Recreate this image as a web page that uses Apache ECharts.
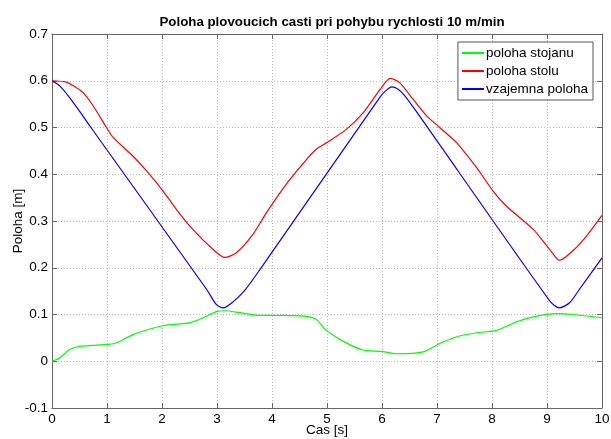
<!DOCTYPE html>
<html>
<head>
<meta charset="utf-8">
<script src="https://cdn.jsdelivr.net/npm/echarts@6/dist/echarts.min.js"></script>
<style>
  html, body {margin: 0; padding: 0; background: #fff;}
  #chart {width: 611px; height: 439px;}
</style>
</head>
<body>
<div id="chart"></div>
<script>
// values
const tStojan = [0, 0.14, 0.32, 0.5, 0.75, 1, 1.17, 1.47, 1.78, 2.02, 2.32, 2.5, 2.75, 2.99, 3.14, 3.41, 3.78, 4.14, 4.5, 4.68, 4.81, 4.99, 5.29, 5.65, 5.99, 6.26, 6.75, 7.05, 7.41, 7.72, 8.08, 8.44, 8.75, 9.17, 9.47, 10];
const polohaStojanu = [0, 0.007, 0.025, 0.032, 0.034, 0.036, 0.039, 0.057, 0.069, 0.076, 0.08, 0.082, 0.093, 0.106, 0.108, 0.104, 0.098, 0.098, 0.097, 0.095, 0.089, 0.066, 0.043, 0.024, 0.021, 0.016, 0.02, 0.038, 0.054, 0.061, 0.066, 0.084, 0.095, 0.102, 0.1, 0.093];

const tStul = [0, 0.23, 0.38, 0.56, 0.75, 0.99, 1.11, 1.47, 1.72, 2.02, 2.26, 2.56, 2.93, 3.14, 3.35, 3.65, 3.9, 4.26, 4.63, 4.81, 5, 5.35, 5.66, 5.97, 6.15, 6.32, 6.56, 6.81, 7.05, 7.35, 7.72, 8.02, 8.26, 8.75, 9.05, 9.23, 9.53, 9.72, 10];
const polohaStolu = [0.6, 0.598, 0.59, 0.575, 0.546, 0.5, 0.479, 0.439, 0.407, 0.364, 0.325, 0.282, 0.239, 0.222, 0.232, 0.271, 0.318, 0.379, 0.432, 0.454, 0.468, 0.496, 0.532, 0.582, 0.605, 0.596, 0.561, 0.525, 0.5, 0.468, 0.414, 0.364, 0.332, 0.282, 0.239, 0.216, 0.243, 0.268, 0.312];

const tVzaj = [0, 0.14, 0.32, 0.56, 0.75, 2.81, 2.99, 3.11, 3.29, 3.5, 3.78, 5.97, 6.08, 6.18, 6.28, 6.4, 6.62, 9.05, 9.22, 9.41, 9.59, 10];
const vzajemnaPoloha = [0.6, 0.589, 0.564, 0.525, 0.493, 0.154, 0.121, 0.114, 0.127, 0.151, 0.196, 0.566, 0.58, 0.587, 0.583, 0.57, 0.535, 0.129, 0.114, 0.125, 0.154, 0.221];

const seriesNames = ['poloha stojanu', 'poloha stolu', 'vzajemna poloha'];
const seriesColors = ['#00ff00', '#ff0000', '#0000ff'];

function zip(xs, ys) {
    return xs.map((x, i) => [x, ys[i]]);
}

const chart = echarts.init(document.getElementById('chart'));

const font = 'Liberation Sans, Arial, sans-serif';
const gridLine = {show: true, lineStyle: {color: '#bbbbbb', type: [1, 2], width: 1}};
const frame = {color: '#666'};

const allData = [
    zip(tStojan, polohaStojanu),
    zip(tStul, polohaStolu),
    zip(tVzaj, vzajemnaPoloha)
];

const option = {
    animation: false,
    backgroundColor: '#fff',
    title: {
        text: 'Poloha plovoucich casti pri pohybu rychlosti 10 m/min',
        left: 327,
        top: 11,
        textAlign: 'center',
        textStyle: {fontFamily: font, fontSize: 13.3, fontWeight: 'bold', color: '#000'}
    },
    legend: {
        orient: 'vertical',
        right: 18,
        top: 42,
        data: seriesNames,
        icon: 'rect',
        itemWidth: 22,
        itemHeight: 2,
        itemGap: 4,
        padding: [4, 5, 4, 4],
        borderColor: '#555',
        borderWidth: 1,
        backgroundColor: '#fff',
        textStyle: {fontFamily: font, fontSize: 13.5, color: '#000', padding: [0, 0, 0, -3]}
    },
    grid: {left: 52, right: 9, top: 34, bottom: 31, containLabel: false, outerBoundsMode: 'none'},
    xAxis: [{
        type: 'value',
        min: 0, max: 10, interval: 1,
        name: 'Cas [s]',
        nameLocation: 'middle',
        nameGap: 15,
        nameMoveOverlap: false,
        nameTextStyle: {fontFamily: font, fontSize: 13.5, color: '#000'},
        axisLine: {onZero: false, lineStyle: frame},
        axisTick: {inside: true, length: 5, lineStyle: frame},
        axisLabel: {fontFamily: font, fontSize: 13.5, color: '#000', margin: 4},
        splitLine: gridLine
    }, {
        type: 'value',
        position: 'top',
        min: 0, max: 10, interval: 1,
        axisLine: {show: true, onZero: false, lineStyle: frame},
        axisTick: {show: true, inside: true, length: 5, lineStyle: frame},
        axisLabel: {show: false},
        splitLine: {show: false}
    }],
    yAxis: [{
        type: 'value',
        min: -0.1, max: 0.7, interval: 0.1,
        name: 'Poloha [m]',
        nameLocation: 'middle',
        nameGap: 27,
        nameMoveOverlap: false,
        nameTextStyle: {fontFamily: font, fontSize: 13.5, color: '#000'},
        axisLine: {show: true, onZero: false, lineStyle: frame},
        axisTick: {show: true, inside: true, length: 5, lineStyle: frame},
        axisLabel: {fontFamily: font, fontSize: 13.5, color: '#000', margin: 4,
            formatter: v => String(Math.round(v * 10) / 10)},
        splitLine: gridLine
    }, {
        type: 'value',
        position: 'right',
        min: -0.1, max: 0.7, interval: 0.1,
        axisLine: {show: true, onZero: false, lineStyle: frame},
        axisTick: {show: true, inside: true, length: 5, lineStyle: frame},
        axisLabel: {show: false},
        splitLine: {show: false}
    }],
    series: seriesNames.map((name, i) => ({
        name: name,
        type: 'line',
        data: allData[i],
        showSymbol: false,
        smooth: 0.25,
        color: seriesColors[i],
        lineStyle: {width: 1.2, color: seriesColors[i]}
    }))
};

chart.setOption(option);
</script>
</body>
</html>
